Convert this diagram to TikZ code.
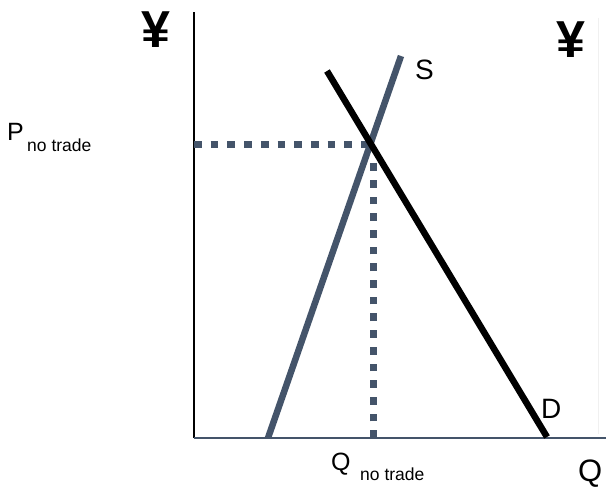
\documentclass[tikz,border=0pt]{standalone}
\usepackage{fontspec}
\setmainfont{Liberation Sans}
\definecolor{slate}{HTML}{44546A}
\begin{document}
\begin{tikzpicture}[x=1pt,y=-1pt,
  curve/.style={line width=6.5pt},
  guide/.style={slate,line width=7pt,dash pattern=on 7.7pt off 9pt},
  lbl/.style={inner sep=0pt,anchor=base west},
  yen/.style={inner sep=0pt,anchor=base west,font=\bfseries\fontsize{52}{52}\selectfont}]
\useasboundingbox (0,0) rectangle (606,487);
\fill[white] (0,0) rectangle (606,487);
% faint slide edge
\coordinate (Et) at (598,18);
\coordinate (Eb) at (598,434);
\draw[gray!12,line width=0.8pt] (Et) -- (Eb);
% axes
\coordinate (O) at (194,438);
\coordinate (Ytop) at (194,12);
\coordinate (Xend) at (606,438);
\draw[line width=1.4pt,black] (O) -- (Ytop);
\draw[line width=1.8pt,slate] (O) -- (Xend);
% curves
\coordinate (S0) at (268,438);
\coordinate (S1) at (401,56);
\coordinate (D0) at (327,71);
\coordinate (D1) at (547,437);
\coordinate (Ey) at (194,145);
\coordinate (E) at (371,145);
\coordinate (Qx) at (373,438);
\coordinate (Ex) at (373,161);
\draw[guide] (Ey) -- (E);
\draw[guide] (Qx) -- (Ex);
\draw[curve,slate] (S0) -- (S1);
\draw[curve,black] (D0) -- (D1);
% labels
\node[yen] (yl) at (141,48) {¥};
\node[yen] (yr) at (556,58) {¥};
\node[lbl,font=\fontsize{28}{28}\selectfont] (s) at (415,80) {S};
\node[lbl,font=\fontsize{28}{28}\selectfont] (d) at (541,418) {D};
\node[lbl,font=\fontsize{25}{25}\selectfont] (p) at (7,141) {P};
\node[lbl,font=\fontsize{17.5}{17.5}\selectfont] (pn) at (27,152) {no trade};
\node[lbl,font=\fontsize{25}{25}\selectfont] (q) at (331,470) {Q};
\node[lbl,font=\fontsize{17.5}{17.5}\selectfont] (qn) at (360,480) {no trade};
\node[lbl,font=\fontsize{31}{31}\selectfont] (qq) at (578,481) {Q};
\end{tikzpicture}
\end{document}
